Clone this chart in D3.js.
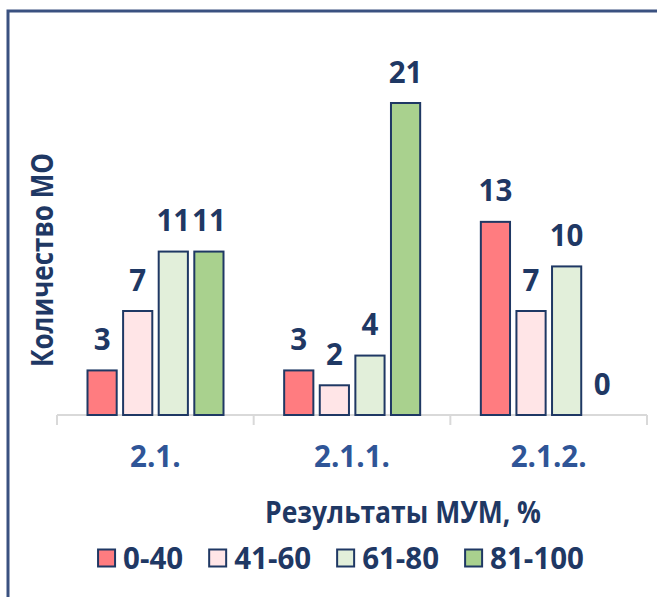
<!DOCTYPE html>
<html><head><meta charset="utf-8">
<script src="https://cdn.jsdelivr.net/npm/d3@7"></script>
<style>
html,body{margin:0;padding:0;background:#fff;}
svg text{font-family:"Open Sans","Noto Sans",sans-serif;font-weight:700;}
</style></head>
<body>
<svg id="chart" width="657" height="597"></svg>
<script>
const categories = ["2.1.", "2.1.1.", "2.1.2."];
const seriesNames = ["0-40", "41-60", "61-80", "81-100"];
const values_0_40   = [3, 3, 13];
const values_41_60  = [7, 2, 7];
const values_61_80  = [11, 4, 10];
const values_81_100 = [11, 21, 0];
const seriesValues = [values_0_40, values_41_60, values_61_80, values_81_100];
const seriesColors = ["#FF7C80", "#FFE5E7", "#E2EFDA", "#A9D18E"];
const yTitle = "Количество МО";
const xTitle = "Результаты МУМ, %";

const navy = "#1F3864";
const catBlue = "#2F5597";
const FS = 29.5;

const svg = d3.select("#chart");

// frame
svg.append("rect").attr("x", 8).attr("y", 11).attr("width", 800).attr("height", 800)
  .attr("fill", "none").attr("stroke", "#3A5180").attr("stroke-width", 3);

const x0 = d3.scaleBand().domain(categories).range([57, 647]).paddingInner(0).paddingOuter(0);
const x1 = d3.scaleBand().domain(seriesNames).range([30.5, 166.5]).paddingInner(0.18).paddingOuter(0);
const y = d3.scaleLinear().domain([0, 21]).range([415, 103]);

// axis line & ticks
svg.append("line").attr("x1", x0.range()[0]).attr("x2", x0.range()[1])
  .attr("y1", y(0)).attr("y2", y(0)).attr("stroke", "#D9D9D9").attr("stroke-width", 2);
const tickPos = categories.map(c => x0(c)).concat([x0(categories[categories.length-1]) + x0.bandwidth()]);
svg.selectAll("line.tick").data(tickPos).join("line").attr("class","tick")
  .attr("x1", d => d).attr("x2", d => d).attr("y1", y(0)).attr("y2", y(0) + 10)
  .attr("stroke", "#D9D9D9").attr("stroke-width", 2);

// bars
const flat = [];
categories.forEach((c, ci) => seriesNames.forEach((s, si) => flat.push({c, s, si, v: seriesValues[si][ci]})));
const g = svg.append("g");
g.selectAll("rect.bar").data(flat.filter(d => d.v > 0)).join("rect").attr("class","bar")
  .attr("x", d => x0(d.c) + x1(d.s))
  .attr("y", d => y(d.v))
  .attr("width", x1.bandwidth())
  .attr("height", d => y(0) - y(d.v))
  .attr("fill", d => seriesColors[d.si])
  .attr("stroke", navy).attr("stroke-width", 2);

// data labels
g.selectAll("text.lbl").data(flat).join("text").attr("class","lbl")
  .attr("x", d => x0(d.c) + x1(d.s) + x1.bandwidth()/2)
  .attr("y", d => y(d.v) - 20.5)
  .attr("text-anchor", "middle").attr("fill", navy).attr("font-size", FS)
  .text(d => d.v);

// category labels
svg.selectAll("text.cat").data(categories).join("text").attr("class","cat")
  .attr("x", d => x0(d) + x0.bandwidth()/2)
  .attr("y", 467).attr("text-anchor","middle").attr("fill", catBlue).attr("font-size", FS)
  .text(d => d);

// y title
svg.append("text").attr("transform", "translate(53,260) rotate(-90)")
  .attr("text-anchor","middle").attr("fill", navy).attr("font-size", FS)
  .attr("textLength", 214).attr("lengthAdjust", "spacingAndGlyphs")
  .text(yTitle);

// x title
svg.append("text").attr("x", 403).attr("y", 523).attr("text-anchor","middle")
  .attr("fill", navy).attr("font-size", FS)
  .attr("textLength", 276).attr("lengthAdjust", "spacingAndGlyphs")
  .text(xTitle);

// legend
const lg = svg.append("g");
let cx = 0;
const GAP = 26;
seriesNames.forEach((s, i) => {
  const it = lg.append("g");
  it.append("rect").attr("x", 0).attr("y", 0).attr("width", 17).attr("height", 17)
    .attr("fill", seriesColors[i]).attr("stroke", navy).attr("stroke-width", 2);
  const t = it.append("text").attr("x", 25).attr("y", 19).attr("fill", navy).attr("font-size", FS).text(s);
  const w = t.node().getComputedTextLength();
  it.attr("transform", `translate(${cx},0)`);
  cx += 25 + w + GAP;
});
const totalW = cx - GAP;
lg.attr("transform", `translate(${341 - totalW/2},549.5)`);
</script>
</body></html>
